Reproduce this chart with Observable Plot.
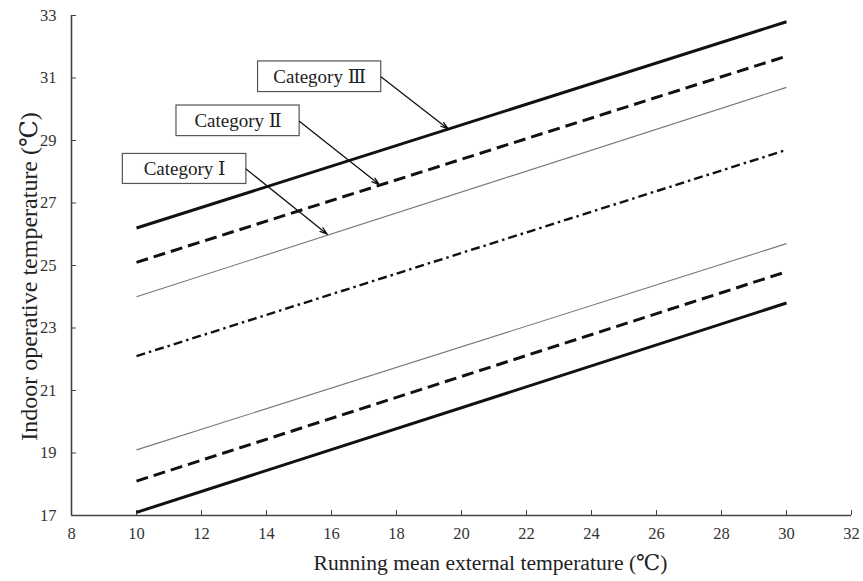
<!DOCTYPE html>
<html>
<head>
<meta charset="utf-8">
<script src="https://cdn.jsdelivr.net/npm/d3@7"></script>
<script src="https://cdn.jsdelivr.net/npm/@observablehq/plot@0.6"></script>
<style>
  html, body { margin: 0; padding: 0; background: #fff; }
  #chart svg { display: block; }
  #chart svg text { font-family: "Liberation Serif", "Times New Roman", "DejaVu Serif", serif !important; }
</style>
</head>
<body>
<div id="chart"></div>
<script>
// Running mean external temperature (x) endpoints
const trm = [10, 30];
// Indoor operative temperature limits
const catIIIUpper = [26.2, 32.8];
const catIIUpper  = [25.1, 31.7];
const catIUpper   = [24.0, 30.7];
const neutral     = [22.1, 28.7];
const catILower   = [19.1, 25.7];
const catIILower  = [18.1, 24.8];
const catIIILower = [17.1, 23.8];

const xTicks = [8, 10, 12, 14, 16, 18, 20, 22, 24, 26, 28, 30, 32];
const yTicks = [17, 19, 21, 23, 25, 27, 29, 31, 33];

const labels = ["Category Ⅲ", "Category Ⅱ", "Category Ⅰ"];
// label box extents and arrow ends (data coordinates)
const boxX1 = [13.74, 11.23, 9.58];
const boxX2 = [17.53, 15.02, 13.38];
const boxY1 = [30.55, 29.14, 27.61];
const boxY2 = [31.53, 30.12, 28.57];
const arrowX1 = [17.53, 15.02, 13.38];
const arrowY1 = [31.03, 29.61, 28.08];
const arrowX2 = [19.59, 17.47, 15.87];
const arrowY2 = [29.37, 27.59, 26.0];

const styles = {
  solid:   {stroke: "#111", strokeWidth: 3},
  dashed:  {stroke: "#111", strokeWidth: 3, strokeDasharray: "12,6"},
  thin:    {stroke: "#777", strokeWidth: 1.1},
  dashdot: {stroke: "#111", strokeWidth: 2.4, strokeDasharray: "9,4,2.5,4"}
};

const series = [
  {values: catIIIUpper, style: "solid"},
  {values: catIIUpper, style: "dashed"},
  {values: catIUpper, style: "thin"},
  {values: neutral, style: "dashdot"},
  {values: catILower, style: "thin"},
  {values: catIILower, style: "dashed"},
  {values: catIIILower, style: "solid"}
];

const annotations = labels.map((label, i) => ({
  label, x1: boxX1[i], x2: boxX2[i], y1: boxY1[i], y2: boxY2[i],
  ax1: arrowX1[i], ay1: arrowY1[i], ax2: arrowX2[i], ay2: arrowY2[i]
}));

const font = "Liberation Serif, Times New Roman, serif";

const lineMarks = series.map(s =>
  Plot.line(trm.map((x, i) => ({x, y: s.values[i]})), {
    x: "x", y: "y", strokeLinecap: "butt", ...styles[s.style]
  })
);

const chart = Plot.plot({
  width: 863,
  height: 581,
  marginLeft: 71,
  marginRight: 12,
  marginTop: 15,
  marginBottom: 66,
  style: {fontFamily: font, background: "#fff", color: "#333"},
  x: {domain: [8, 32], ticks: xTicks},
  y: {domain: [17, 33], ticks: yTicks},
  marks: [
    Plot.axisX(xTicks, {tickSize: -5, tickPadding: 16.5, fontSize: 16.5, label: null, stroke: "#444", fill: "#333", fontFamily: font}),
    Plot.axisY(yTicks, {tickSize: -5, tickPadding: 20, fontSize: 16.5, label: null, stroke: "#444", fill: "#333", fontFamily: font}),
    Plot.ruleY([17], {stroke: "#444", strokeWidth: 1.6}),
    Plot.ruleX([8], {stroke: "#444", strokeWidth: 1.6}),
    ...lineMarks,
    Plot.rect(annotations, {x1: "x1", x2: "x2", y1: "y1", y2: "y2", fill: "white", stroke: "#555", strokeWidth: 1.2}),
    Plot.text(annotations, {x: d => (d.x1 + d.x2) / 2, y: d => (d.y1 + d.y2) / 2, text: "label", fontSize: 19, fill: "#222", fontFamily: font}),
    Plot.arrow(annotations, {x1: "ax1", y1: "ay1", x2: "ax2", y2: "ay2", stroke: "#111", strokeWidth: 1.3, headLength: 9, headAngle: 35}),
    Plot.text(["Running mean external temperature (℃)"], {frameAnchor: "bottom", dx: 29, dy: 54, fontSize: 21.6, fill: "#222", fontFamily: font}),
    Plot.text(["Indoor operative temperature (℃)"], {frameAnchor: "left", textAnchor: "middle", dx: -42, dy: 11, rotate: -90, fontSize: 24, fill: "#222", fontFamily: font})
  ]
});

document.getElementById("chart").appendChild(chart);
</script>
</body>
</html>
